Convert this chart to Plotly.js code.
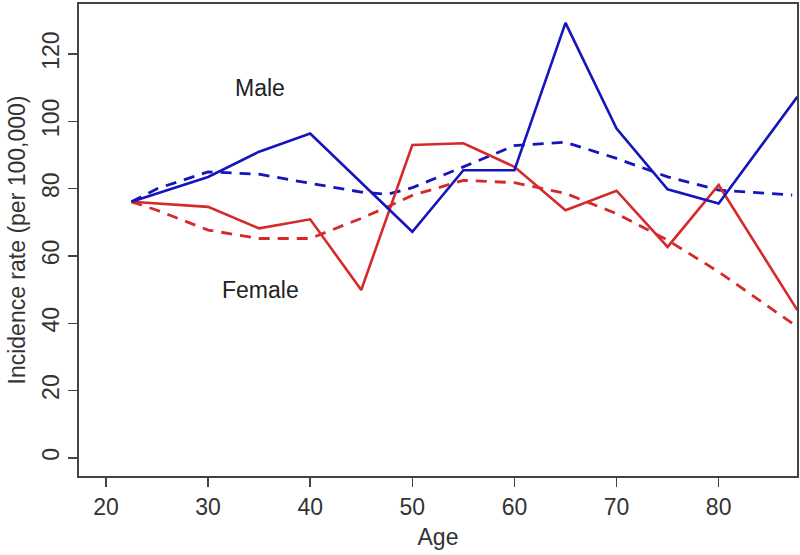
<!DOCTYPE html>
<html>
<head>
<meta charset="utf-8">
<script src="https://cdn.plot.ly/plotly-3.0.1.min.js"></script>
<style>html,body{margin:0;padding:0;background:#fff;}#chart{width:800px;height:555px;}</style>
</head>
<body>
<div id="chart"></div>
<script>
// Observed incidence rates
const ages = [22.5, 30, 35, 40, 50, 55, 60, 65, 70, 75, 80, 87.7];
const femaleAges = [22.5, 30, 35, 40, 45, 50, 55, 60, 65, 70, 75, 80, 87.7];
const maleRate = [76.1, 83.5, 91.0, 96.4, 67.2, 85.5, 85.5, 129.3, 97.9, 79.8, 75.6, 107.3];
const femaleRate = [76.1, 74.6, 68.2, 70.9, 49.9, 93.0, 93.5, 86.5, 73.6, 79.4, 62.7, 81.1, 43.9];

// Smoothed (fitted) curves
const smoothAges = [22.5, 25, 30, 35, 40, 45, 47.5, 50, 55, 60, 65, 70, 75, 80, 87.2];
const maleSmooth = [76.1, 80.0, 85.0, 84.3, 81.6, 79.0, 78.3, 80.3, 86.5, 92.8, 93.8, 89.0, 83.5, 79.6, 78.1];
const femaleSmooth = [76.1, 73.6, 67.7, 65.2, 65.2, 71.2, 74.5, 78.0, 82.5, 81.8, 78.6, 72.6, 64.7, 55.3, 40.0];

const xTicks = [20, 30, 40, 50, 60, 70, 80];
const yTicks = [0, 20, 40, 60, 80, 100, 120];

const blue = '#1515bb';
const red = '#d42a2a';

const traces = [
  {x: smoothAges, y: maleSmooth, mode: 'lines', line: {color: blue, width: 2.8, dash: '11px,8px'}, name: 'Male fit'},
  {x: smoothAges, y: femaleSmooth, mode: 'lines', line: {color: red, width: 2.8, dash: '11px,8px'}, name: 'Female fit'},
  {x: femaleAges, y: femaleRate, mode: 'lines', line: {color: red, width: 2.6}, name: 'Female'},
  {x: ages, y: maleRate, mode: 'lines', line: {color: blue, width: 2.6}, name: 'Male'}
];

const fontFam = 'Liberation Sans, Arial, sans-serif';
const layout = {
  width: 800, height: 555,
  margin: {l: 79, r: 3, t: 4, b: 79},
  paper_bgcolor: '#fff', plot_bgcolor: '#fff',
  showlegend: false,
  font: {family: fontFam, color: '#333', size: 23},
  xaxis: {
    range: [17.36, 87.67], tickvals: xTicks, ticktext: xTicks.map(String),
    showgrid: false, zeroline: false, showline: true, mirror: true,
    linecolor: '#444', linewidth: 2, ticks: 'outside', ticklen: 9, tickwidth: 1.5, tickcolor: '#444',
    tickfont: {size: 23, color: '#333'},
    title: {text: 'Age', font: {size: 23, color: '#333'}, standoff: 10}
  },
  yaxis: {
    range: [-5.4, 134.9], tickvals: yTicks, ticktext: yTicks.map(String),
    showgrid: false, zeroline: false, showline: true, mirror: true,
    linecolor: '#444', linewidth: 2, ticks: 'outside', ticklen: 9, tickwidth: 1.5, tickcolor: '#444',
    tickangle: -90, tickfont: {size: 23, color: '#333'},
    title: {text: 'Incidence rate (per 100,000)', font: {size: 23, color: '#333'}, standoff: 6}
  },
  annotations: [
    {x: 35.1, y: 109.9, xref: 'x', yref: 'y', text: 'Male', showarrow: false, font: {size: 23, color: '#222'}},
    {x: 35.1, y: 49.9, xref: 'x', yref: 'y', text: 'Female', showarrow: false, font: {size: 23, color: '#222'}}
  ]
};

Plotly.newPlot('chart', traces, layout, {displayModeBar: false, staticPlot: true});
</script>
</body>
</html>
